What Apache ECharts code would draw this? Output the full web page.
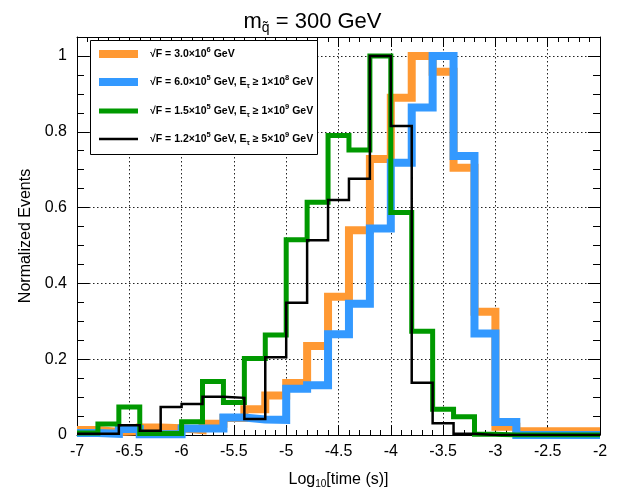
<!DOCTYPE html>
<html>
<head>
<meta charset="utf-8">
<script src="https://cdn.jsdelivr.net/npm/echarts@6/dist/echarts.min.js"></script>
<style>html,body{margin:0;padding:0;background:#fff}#c{width:625px;height:496px}</style>
</head>
<body>
<div id="c"></div>
<script>
// Bin lower edges (log10 time), bin width 0.2, from -7 to -2
const binEdges = [-7.0,-6.8,-6.6,-6.4,-6.2,-6.0,-5.8,-5.6,-5.4,-5.2,-5.0,-4.8,-4.6,-4.4,-4.2,-4.0,-3.8,-3.6,-3.4,-3.2,-3.0,-2.8,-2.6,-2.4,-2.2,-2.0];
const orangeVals = [0.013,0.008,0.010,0.020,0.018,0.013,0.030,0.045,0.068,0.104,0.137,0.235,0.365,0.540,0.728,0.890,1.000,0.958,0.705,0.325,0.022,0.010,0.010,0.010,0.010];
const blueVals   = [0.005,0.003,0.016,0.002,0.002,0.017,0.017,0.046,0.041,0.040,0.122,0.131,0.266,0.346,0.545,0.718,0.864,1.000,0.736,0.268,0.034,0.000,0.000,0.000,0.000];
const greenVals  = [0.005,0.029,0.074,0.004,0.004,0.035,0.141,0.086,0.202,0.264,0.515,0.614,0.790,0.752,1.000,0.587,0.274,0.068,0.048,0.002,0.000,0.000,0.000,0.000,0.000];
const blackVals  = [0.003,0.003,0.026,0.011,0.074,0.082,0.101,0.098,0.042,0.205,0.349,0.514,0.620,0.676,1.000,0.815,0.138,0.031,0.003,0.000,0.000,0.000,0.000,0.000,0.000];
const seriesNames = ['sF3e6','sF6e5','sF1.5e5','sF1.2e5'];
const legendRich = [
  '{n|√F = 3.0×10}{s|6}{n| GeV}',
  '{n|√F = 6.0×10}{s|5}{n| GeV, E}{d|τ}{n| ≥ 1×10}{s|8}{n| GeV}',
  '{n|√F = 1.5×10}{s|5}{n| GeV, E}{d|τ}{n| ≥ 1×10}{s|9}{n| GeV}',
  '{n|√F = 1.2×10}{s|5}{n| GeV, E}{d|τ}{n| ≥ 5×10}{s|9}{n| GeV}'
];
const colors = ['#FF9933','#3399FF','#009900','#000000'];
const widths = [8,8,5,2.5];
const allVals = [orangeVals, blueVals, greenVals, blackVals];

function stepData(vals){
  const d = [];
  for (let i = 0; i < vals.length; i++) d.push([binEdges[i], vals[i]]);
  d.push([binEdges[vals.length], vals[vals.length-1]]);
  return d;
}

const FONT = 'Liberation Sans';
const chart = echarts.init(document.getElementById('c'), null, {renderer:'canvas'});
const gridLine = {show:true, lineStyle:{color:'#222', width:1, type:[1.5,2.5]}};
const legendTop = [54,82,111,139];
const legends = seriesNames.map((nm,i)=>({
  show:true, data:[nm], left:99, top:legendTop[i]-8, height:16,
  icon:'rect', itemWidth:39, itemHeight:widths[i], selectedMode:false, z:10,
  formatter: ()=>'{g|}'+legendRich[i],
  textStyle:{fontFamily:FONT, rich:{
    g:{width:7},
    n:{fontSize:10.5, fontWeight:'bold', fontFamily:FONT, color:'#000', lineHeight:15},
    s:{fontSize:7.5, fontWeight:'bold', fontFamily:FONT, color:'#000', padding:[0,0,8,0]},
    d:{fontSize:7.5, fontWeight:'bold', fontFamily:FONT, color:'#000', padding:[7,0,0,0]}
  }},
  padding:[0,0,0,0], itemGap:0
}));

chart.setOption({
  animation:false,
  backgroundColor:'#fff',
  title:{
    text:'{m|m}{q|q̃}{m| = 300 GeV}', left:'center', top:4,
    textStyle:{fontWeight:'normal', rich:{
      m:{fontSize:22, fontWeight:'normal', fontFamily:FONT, color:'#000'},
      q:{fontSize:14, fontWeight:'normal', fontFamily:FONT, color:'#000', padding:[12,0,0,0]}
    }}
  },
  legend: legends,
  graphic:[{type:'rect', shape:{x:90.5,y:40.5,width:227,height:114}, style:{fill:'#fff', stroke:'#000', lineWidth:1}, z:5}],
  grid:{left:77, right:25, top:37, bottom:61, containLabel:false},
  xAxis:[{
    type:'value', min:-7, max:-2, interval:0.5,
    name:'{a|Log}{b|10}{a|[time (s)]}', nameLocation:'middle', nameGap:35,
    nameTextStyle:{rich:{a:{fontSize:16,fontFamily:FONT,color:'#000'}, b:{fontSize:10,fontFamily:FONT,color:'#000',padding:[9,0,0,0]}}},
    axisLine:{show:true, onZero:false, lineStyle:{color:'#000', width:1}},
    axisTick:{show:true, inside:true, length:10, lineStyle:{color:'#000'}},
    minorTick:{show:true, splitNumber:5, length:5, lineStyle:{color:'#000'}},
    axisLabel:{fontSize:16, fontFamily:FONT, color:'#000', margin:9},
    splitLine:gridLine
  },{
    type:'value', min:-7, max:-2, interval:0.5, position:'top',
    axisLine:{show:true, onZero:false, lineStyle:{color:'#000', width:1}},
    axisTick:{show:true, inside:true, length:10, lineStyle:{color:'#000'}},
    minorTick:{show:true, splitNumber:5, length:5, lineStyle:{color:'#000'}},
    axisLabel:{show:false}, splitLine:{show:false}
  }],
  yAxis:[{
    type:'value', min:0, max:1.05, interval:0.2,
    name:'Normalized Events', nameLocation:'middle', nameGap:42,
    nameTextStyle:{fontSize:16, fontFamily:FONT, color:'#000'},
    axisLine:{show:true, onZero:false, lineStyle:{color:'#000', width:1}},
    axisTick:{show:true, inside:true, length:12, lineStyle:{color:'#000'}},
    minorTick:{show:true, splitNumber:4, length:7, lineStyle:{color:'#000'}},
    axisLabel:{fontSize:16, fontFamily:FONT, color:'#000', margin:10, showMaxLabel:false,
      formatter:v=> (Math.abs(v*5-Math.round(v*5))<1e-6 ? String(+v.toFixed(1)) : '')},
    splitLine:gridLine
  },{
    type:'value', min:0, max:1.05, interval:0.2, position:'right',
    axisLine:{show:true, onZero:false, lineStyle:{color:'#000', width:1}},
    axisTick:{show:true, inside:true, length:12, lineStyle:{color:'#000'}},
    minorTick:{show:true, splitNumber:4, length:7, lineStyle:{color:'#000'}},
    axisLabel:{show:false}, splitLine:{show:false}
  }],
  series: allVals.map((vals,i)=>({
    name:seriesNames[i], type:'line', step:'end', data:stepData(vals),
    showSymbol:false, symbol:'none', clip:true,
    color:colors[i], itemStyle:{color:colors[i]},
    lineStyle:{color:colors[i], width:widths[i], join:'miter', cap:'butt'},
    z:2+i
  }))
});
</script>
</body>
</html>
